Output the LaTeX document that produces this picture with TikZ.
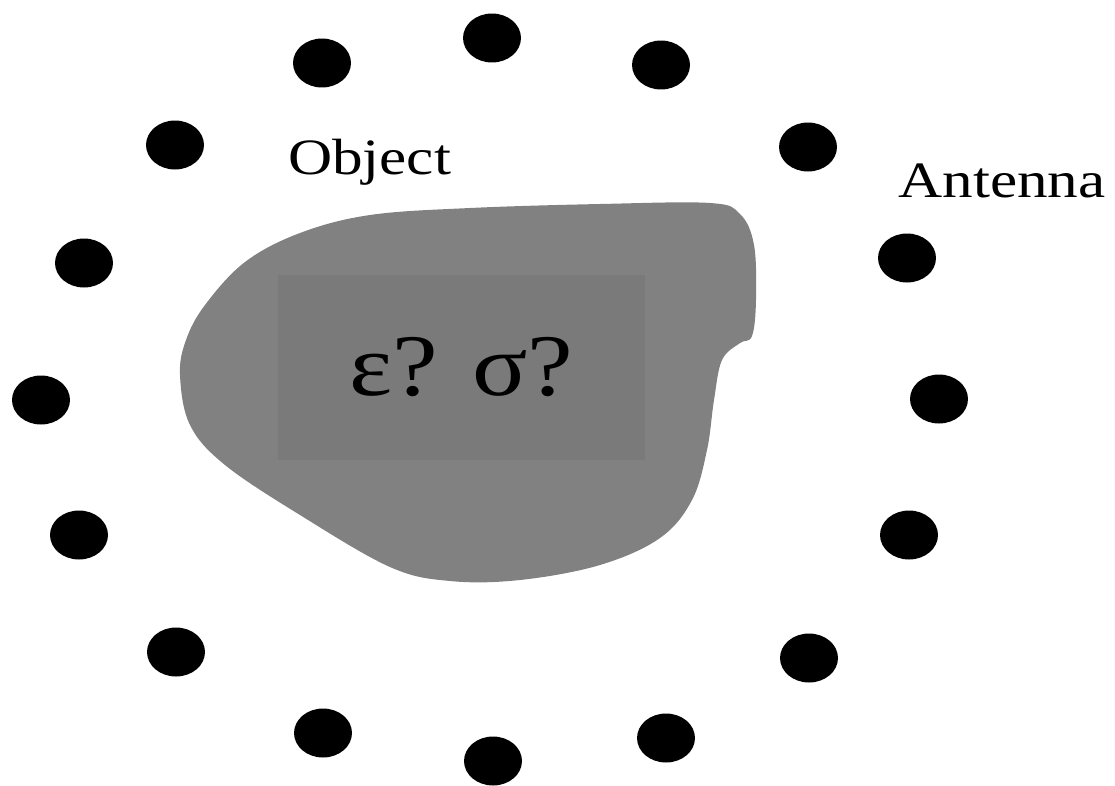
\documentclass[tikz,border=0pt]{standalone}
\usepackage{graphicx,xcolor}
\usepackage{fontspec}
\setmainfont{Liberation Serif}
\definecolor{objgray}{RGB}{129,129,129}
\definecolor{propgray}{RGB}{122,122,122}
\usetikzlibrary{shapes.geometric}

\begin{document}
\begin{tikzpicture}[x=0.02cm, y=-0.02cm,
    antdot/.style={ellipse, fill=black, minimum width=1.16cm, minimum height=0.98cm, inner sep=0pt},
    lbltext/.style={font=\fontsize{29}{32}\selectfont, inner sep=0pt, anchor=base},
    propbox/.style={rectangle, fill=propgray, minimum width=7.34cm, minimum height=3.7cm,
      inner sep=0pt, font=\fontsize{50}{54}\selectfont}
  ]
    \useasboundingbox (0,0) rectangle (1115,785);

    % Object outline
    \fill[objgray] plot[smooth cycle, tension=0.6] coordinates {
      (180,375) (190,425) (225,465) (300,515) (390,567) (450,581) (520,580)
      (600,565) (660,538) (692,500) (707,450) (714,400) (722,360) (740,343)
      (752,336) (756,300) (754,245) (740,214) (710,203) (600,204) (470,208)
      (370,215) (300,233) (245,262) (205,305) (186,340)};

    % Unknown properties
    \node[propbox] (props) at (461.5,367.5) {\scalebox{1.17}[1]{ε? σ?}};

    % Antenna ring
    \foreach \px/\py [count=\i] in {492/38, 661/65, 808/147, 907/258, 939/399,
        909/535, 809/658, 666/738, 493/761, 323/733, 176/652, 79/535,
        41/400, 84/263, 175/145, 322/63}
      \node[antdot] (ant\i) at (\px,\py) {};

    % Labels
    \node[lbltext] (objlbl) at (369.5,174) {\scalebox{1.2}[1]{Object}};
    \node[lbltext] (antlbl) at (1002,197) {\scalebox{1.2}[1]{Antenna}};
  \end{tikzpicture}
\end{document}
